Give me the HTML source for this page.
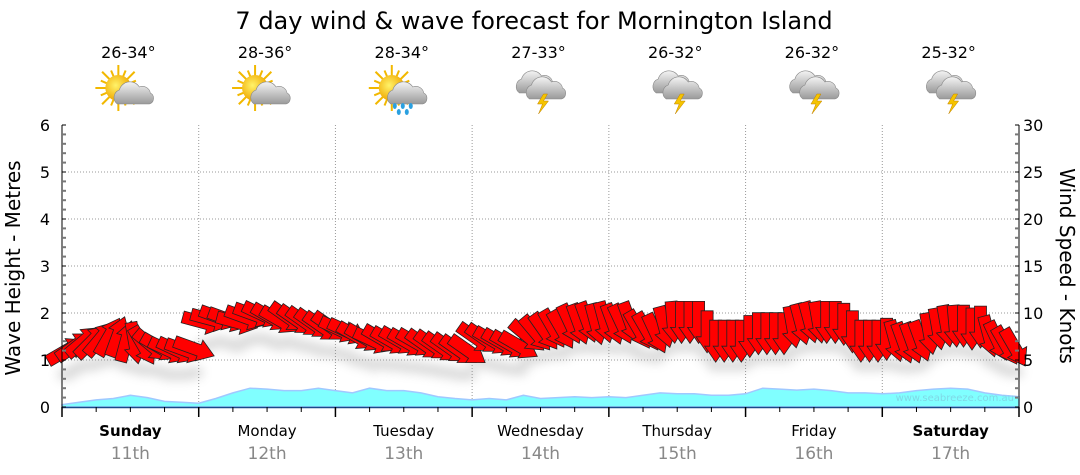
<!DOCTYPE html>
<html><head><meta charset="utf-8"><style>
html,body{margin:0;padding:0;background:#fff;}
svg{display:block;font-family:"DejaVu Sans","Liberation Sans",sans-serif;}
</style></head><body>
<svg id="chart" width="1080" height="475" viewBox="0 0 1080 475" xmlns="http://www.w3.org/2000/svg">
<defs>
<filter id="shadow" x="-20%" y="-20%" width="140%" height="160%"><feGaussianBlur stdDeviation="5"/></filter>
<radialGradient id="sunG" cx="0.4" cy="0.4" r="0.6"><stop offset="0" stop-color="#fff36a"/><stop offset="1" stop-color="#f0a800"/></radialGradient>
<linearGradient id="cloudG" x1="0" y1="0" x2="0" y2="1"><stop offset="0" stop-color="#f4f4f4"/><stop offset="1" stop-color="#9a9a9a"/></linearGradient>
</defs>
<text x="534" y="29" text-anchor="middle" font-size="24" fill="#000">7 day wind &amp; wave forecast for Mornington Island</text>
<g id="grid"></g>
<g id="wave"></g>
<g id="arrowShadow" filter="url(#shadow)" opacity="0.3"></g>
<g id="arrows"></g>
<g id="axes"></g>
<g id="icons"></g>
<text x="1014" y="401" text-anchor="end" font-size="10" fill="#7fd8e6">www.seabreeze.com.au</text>
<text transform="translate(20,268) rotate(-90)" text-anchor="middle" font-size="20">Wave Height - Metres</text>
<text transform="translate(1060,266) rotate(90)" text-anchor="middle" font-size="20">Wind Speed - Knots</text>
</svg>
<script>
const dayNames=["Sunday","Monday","Tuesday","Wednesday","Thursday","Friday","Saturday"];
const dayDates=["11th","12th","13th","14th","15th","16th","17th"];
const boldDays=[true,false,false,false,false,false,true];
const temps=["26-34°","28-36°","28-34°","27-33°","26-32°","26-32°","25-32°"];
const iconTypes=["sun","sun","rain","storm","storm","storm","storm"];
const waveTicks=[0,1,2,3,4,5,6];
const windTicks=[0,5,10,15,20,25,30];
// wave height (m), 3-hourly
const waveHeights=[0.05,0.1,0.15,0.18,0.25,0.2,0.12,0.1,0.08,0.18,0.3,0.4,0.38,0.35,0.35,0.4,
0.35,0.3,0.4,0.35,0.35,0.3,0.22,0.18,0.15,0.18,0.15,0.25,0.18,0.2,0.22,0.2,
0.22,0.2,0.25,0.3,0.28,0.28,0.25,0.25,0.28,0.4,0.38,0.36,0.38,0.35,0.3,0.3,
0.28,0.3,0.35,0.38,0.4,0.38,0.3,0.25,0.22];
// wind speed (knots) and direction arrow points to (deg clockwise from up), 16 per day
const windSpeeds=[6,6.5,7,7,7.3,7.5,7.5,7,6.8,6.5,6.5,6.3,6,6,6,6.2,
9,9.3,9.5,9.3,9,9.5,9.8,9.8,9.5,9.2,9.5,9.2,9,8.8,8.5,8.5,
8.2,8,7.5,7.3,7,7.2,7,7,6.8,6.8,6.6,6.5,6.3,6.2,6,6,
7.3,7.2,7,6.8,6.6,6.5,7.5,7.8,8,8.3,8.2,8.8,8.8,9,8.8,9,
8.8,8.8,9,8.2,8,7.8,8.5,9,9,9,9,8,7,7,7,7,
7.5,7.8,7.8,7.8,7.8,8.5,8.8,9,9,9,9,8.8,8,7,7,7,
7.2,7,6.8,6.8,7,7.8,8.3,8.6,8.6,8.6,8.3,8.5,7.5,7,6.5,6.3];
const windDirs=[60,55,50,45,40,30,20,15,170,150,130,120,115,115,110,110,
105,105,110,110,105,110,110,115,120,120,125,125,125,125,125,125,
115,115,120,120,115,120,120,120,120,120,125,125,125,125,125,125,
125,125,120,120,120,120,130,140,145,150,150,155,160,160,165,165,
160,155,160,150,150,155,165,175,180,180,180,180,180,180,180,180,
180,180,180,180,180,170,165,165,170,180,180,180,180,180,180,180,
180,165,160,160,160,170,170,170,175,180,180,180,165,155,150,150];

const NS="http://www.w3.org/2000/svg";
const L=62,R=1019,T=125,B=407;
const dayW=(R-L)/7;
function xDay(d){return L+d*dayW;}
function yWave(m){return B-(m/6)*(B-T);}
function yWind(k){return B-(k/30)*(B-T);}
function mk(tag,attrs,parent){const e=document.createElementNS(NS,tag);for(const k in attrs)e.setAttribute(k,attrs[k]);parent.appendChild(e);return e;}

const grid=document.getElementById('grid');
for(let i=1;i<7;i++){
  const ln=mk('line',{x1:xDay(i),x2:xDay(i),y1:T,y2:B,stroke:'#999','stroke-dasharray':'1,2'},grid);
  
  
}
waveTicks.forEach(v=>{if(v===0||v===6)return;
  const ln=mk('line',{x1:L,x2:R,y1:yWave(v),y2:yWave(v),stroke:'#999','stroke-dasharray':'1,2'},grid);
  
  
});

const wave=document.getElementById('wave');
let d='M'+L+','+B;
waveHeights.forEach((h,i)=>{d+=' L'+(L+i*(R-L)/(waveHeights.length-1)).toFixed(1)+','+yWave(h).toFixed(1);});
d+=' L'+R+','+B+' Z';
const wa=mk('path',{d:d,fill:'#80ffff',stroke:'#a0c8ff','stroke-width':1.5},wave);



const arrowPts="-6,-21 6,-21 6,5 11,5 0,21 -11,5 -6,5";
const ag=document.getElementById('arrows'),sg=document.getElementById('arrowShadow');
const n=windSpeeds.length;
for(let i=0;i<n;i++){
  const x=L+(i+0.5)*(R-L)/n, y=yWind(windSpeeds[i]);
  const s=mk('ellipse',{cx:x,cy:y+24,rx:9,ry:6,fill:'#888'},sg);
  
  
  const p=mk('polygon',{points:arrowPts,fill:'#ff0000',stroke:'#222','stroke-width':0.8,'stroke-linejoin':'miter',transform:`translate(${x.toFixed(1)},${y.toFixed(1)}) rotate(${windDirs[i]-180})`},ag);
  
  
}

const ax=document.getElementById('axes');
mk('line',{x1:L,x2:L,y1:T,y2:B,stroke:'#000'},ax);
mk('line',{x1:R,x2:R,y1:T,y2:B,stroke:'#000'},ax);
mk('line',{x1:L,x2:R,y1:B+0.5,y2:B+0.5,stroke:'#1a4a8a','stroke-width':1.5},ax);
for(let k=0;k<=30;k++){const y=yWave(k*0.2);const major=k%5===0;
  mk('line',{x1:L,x2:L+4,y1:y,y2:y,stroke:major?'#000':'#777','stroke-width':major?1:2},ax);}
for(let k=0;k<=30;k++){const y=yWind(k);const major=k%5===0;
  mk('line',{x1:R-4,x2:R,y1:y,y2:y,stroke:major?'#000':'#777','stroke-width':major?1:2},ax);}
waveTicks.forEach(v=>{const t=mk('text',{x:L-12,y:yWave(v)+6,'text-anchor':'end','font-size':16},ax);t.textContent=v;
  });
windTicks.forEach(v=>{const t=mk('text',{x:R+4,y:yWind(v)+6,'font-size':16},ax);t.textContent=v;
  });
for(let q=0;q<=28;q++){const x=L+q*dayW/4;const major=q%4===0;
  mk('line',{x1:x,x2:x,y1:B,y2:B+(major?10:5),stroke:'#000','stroke-width':major?1.5:1},ax);}
dayNames.forEach((nm,i)=>{const cx=xDay(i)+dayW/2;
  const t=mk('text',{x:cx,y:436,'text-anchor':'middle','font-size':15,'font-weight':boldDays[i]?'bold':'normal'},ax);t.textContent=nm;
  
  const t2=mk('text',{x:cx,y:459,'text-anchor':'middle','font-size':17,fill:'#888'},ax);t2.textContent=dayDates[i];
  
});

const ic=document.getElementById('icons');
function cloud(g,cx,cy,s){
  mk('path',{d:`M${cx-16*s},${cy+9*s} a8 8 0 0 1 2,-14 a11 11 0 0 1 20,-3 a8 8 0 0 1 11,6 a6 6 0 0 1 -1,11 Z`,fill:'url(#cloudG)',stroke:'#888','stroke-width':0.6},g);
}
temps.forEach((tp,i)=>{const cx=xDay(i)+dayW/2;
  const t=mk('text',{x:cx-2,y:58,'text-anchor':'middle','font-size':16},ic);t.textContent=tp;
  
  const g=mk('g',{},ic);
  
  
  const ix=cx-7,iy=92;
  if(iconTypes[i]!=='storm'){
    for(let a=0;a<16;a++){const r1=12,r2=a%2?19:23,an=a*Math.PI/8;
      mk('line',{x1:ix-5+r1*Math.cos(an),y1:iy-4+r1*Math.sin(an),x2:ix-5+r2*Math.cos(an),y2:iy-4+r2*Math.sin(an),stroke:'#f2b800','stroke-width':2},g);}
    mk('circle',{cx:ix-5,cy:iy-4,r:13,fill:'url(#sunG)'},g);
    cloud(g,ix+10,iy+3,1);
    if(iconTypes[i]==='rain'){[[-2,14],[6,14],[14,14],[2,20],[10,20]].forEach(p=>mk('ellipse',{cx:ix+p[0],cy:iy+p[1],rx:2,ry:3,fill:'#2aa0e0'},g));}
  }else{
    cloud(g,ix+2,iy-8,1);
    cloud(g,ix+12,iy-2,1);
    mk('polygon',{points:`${ix+10},${iy+2} ${ix+4},${iy+12} ${ix+9},${iy+12} ${ix+5},${iy+22} ${ix+15},${iy+9} ${ix+10},${iy+9} ${ix+14},${iy+2}`,fill:'#f5c400',stroke:'#c08000','stroke-width':0.5},g);
  }
});
</script>
</body></html>
